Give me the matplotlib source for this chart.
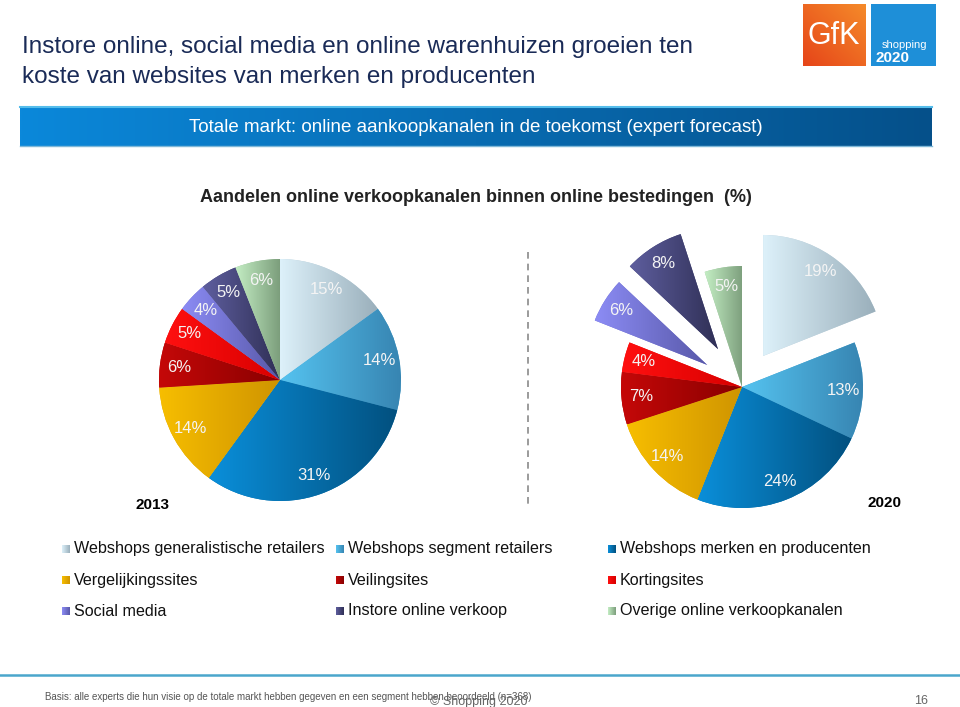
import numpy as np
import matplotlib
matplotlib.use("Agg")
import matplotlib.pyplot as plt
from matplotlib.colors import to_rgb
from matplotlib.patches import Rectangle

plt.rcParams['font.family'] = ['Liberation Sans', 'DejaVu Sans']

# ---------------- data ----------------
categories = [
    "Webshops generalistische retailers",
    "Webshops segment retailers",
    "Webshops merken en producenten",
    "Vergelijkingssites",
    "Veilingsites",
    "Kortingsites",
    "Social media",
    "Instore online verkoop",
    "Overige online verkoopkanalen",
]
share_2013 = [15, 14, 31, 14, 6, 5, 4, 5, 6]
share_2020 = [19, 13, 24, 14, 7, 4, 6, 8, 5]
explode_2020 = [0.31, 0, 0, 0, 0, 0, 0.34, 0.37, 0]
years = ["2013", "2020"]

light_cols = ['#DDF1FA', '#55C3F0', '#0A8FDA', '#F7BE00', '#C50808',
              '#FF1010', '#8C8CF5', '#5E5E9E', '#C4EEC4']
dark_cols = ['#9AAFBB', '#3785B2', '#02507F', '#CF9400', '#880000',
             '#D80000', '#5858A8', '#2F2F55', '#7C9E7C']

title_lines = ["Instore online, social media en online warenhuizen groeien ten",
               "koste van websites van merken en producenten"]
banner_text = "Totale markt: online aankoopkanalen in de toekomst (expert forecast)"
subtitle = "Aandelen online verkoopkanalen binnen online bestedingen  (%)"
basis_text = ("Basis: alle experts die hun visie op de totale markt hebben gegeven "
              "en een segment hebben beoordeeld (n=368)")

W, H = 960, 707
fig = plt.figure(figsize=(W / 100, H / 100), dpi=100)
bg = fig.add_axes([0, 0, 1, 1])
bg.set_xlim(0, W)
bg.set_ylim(H, 0)
bg.axis('off')


def hgrad(c1, c2, n=256):
    a = np.array(to_rgb(c1))
    b = np.array(to_rgb(c2))
    t = np.linspace(0, 1, n)[:, None]
    return (a + (b - a) * t)[None, :, :]


def mid(c1, c2):
    return tuple((np.array(to_rgb(c1)) + np.array(to_rgb(c2))) / 2)


# ---------------- title ----------------
bg.text(22, 47, title_lines[0], fontsize=17.5, color='#1a2b57', va='center', ha='left')
bg.text(22, 77, title_lines[1], fontsize=17.5, color='#1a2b57', va='center', ha='left')

# logos
gfk = np.zeros((40, 40, 3))
c_a = np.array(to_rgb('#F58A2A'))
c_b = np.array(to_rgb('#E64519'))
for i in range(40):
    for j in range(40):
        t = (i + (39 - j)) / 78.0
        gfk[i, j] = c_a + (c_b - c_a) * t
bg.imshow(gfk, extent=[803, 866, 66, 4], aspect='auto', interpolation='bilinear', zorder=2)
bg.text(834, 36, "GfK", fontsize=22, color='white', ha='center', va='center', zorder=3,
        family=['Liberation Sans Narrow', 'Liberation Sans'])
bg.add_patch(Rectangle((871, 4), 65, 62, facecolor='#1E8FD8', edgecolor='none', zorder=2))
bg.text(904, 45, "shopping", fontsize=8, color='white', ha='center', va='center', zorder=3)
bg.text(893, 58, "2020", fontsize=11, color='white', ha='center', va='center', zorder=3,
        fontweight='bold')

# ---------------- banner ----------------
bg.imshow(hgrad('#0B88DA', '#05508A'), extent=[20, 932, 146, 106], aspect='auto',
          interpolation='bilinear', zorder=1)
bg.plot([20, 932], [106.5, 106.5], color='#55BDEB', lw=1.5, zorder=2)
bg.plot([20, 932], [145.5, 145.5], color='#7FB8D8', lw=1, zorder=2)
bg.text(476, 127, banner_text, fontsize=13.5, color='white', ha='center', va='center', zorder=3)

bg.text(476, 197, subtitle, fontsize=13, color='#222222', ha='center', va='center',
        fontweight='bold')

# divider
bg.plot([528, 528], [252, 508], color='#8a8a8a', lw=1.2, ls=(0, (4, 3)))

# year labels
bg.text(153, 505, years[0], fontsize=11, fontweight='bold', ha='center', va='center')
bg.text(884, 503, years[1], fontsize=11, fontweight='bold', ha='center', va='center')


# ---------------- pies ----------------
def pie_axes(cx, cy, r, L=1.6):
    half = L * r
    ax = fig.add_axes([(cx - half) / W, (H - (cy + half)) / H, 2 * half / W, 2 * half / H])
    return ax, L


def draw_pie(ax, L, values, explode):
    wedges, _, autotexts = ax.pie(
        values, explode=explode, startangle=90, counterclock=False,
        colors=[mid(a, b) for a, b in zip(light_cols, dark_cols)],
        autopct='%.0f%%', pctdistance=0.84,
        wedgeprops=dict(linewidth=0),
        textprops=dict(color='white', fontsize=12))
    for w, c1, c2 in zip(wedges, light_cols, dark_cols):
        ext = w.get_path().get_extents()
        im = ax.imshow(hgrad(c1, c2), extent=[ext.x0, ext.x1, ext.y0, ext.y1],
                       aspect='auto', interpolation='bilinear', zorder=2)
        im.set_clip_path(w)
    for t in autotexts:
        t.set_zorder(5)
        t.set_color('#f4f4f4')
    ax.set_xlim(-L, L)
    ax.set_ylim(-L, L)
    ax.set_aspect('equal')
    ax.axis('off')


ax1, L1 = pie_axes(280, 380, 121)
draw_pie(ax1, L1, share_2013, None)
ax2, L2 = pie_axes(742, 387, 121)
draw_pie(ax2, L2, share_2020, explode_2020)

# ---------------- legend ----------------
col_x = [62, 336, 608]
row_y = [549, 580, 611]
for k, name in enumerate(categories):
    x = col_x[k % 3]
    y = row_y[k // 3]
    bg.imshow(hgrad(light_cols[k], dark_cols[k]), extent=[x, x + 8, y + 4, y - 4],
              aspect='auto', interpolation='bilinear', zorder=2)
    bg.text(x + 12, y, name, fontsize=11.6, color='#111111', ha='left', va='center')

# ---------------- footer ----------------
bg.plot([0, W], [675, 675], color='#4AA6CC', lw=1.8)
bg.text(45, 697, basis_text, fontsize=7, color='#555555', ha='left', va='center')
bg.text(479, 702, "\u00a9 Shopping 2020", fontsize=9, color='#666666', ha='center', va='center')
bg.text(921, 701, "16", fontsize=9, color='#666666', ha='center', va='center')

bg.set_xlim(0, W)
bg.set_ylim(H, 0)
fig.savefig("out.png", dpi=100)
